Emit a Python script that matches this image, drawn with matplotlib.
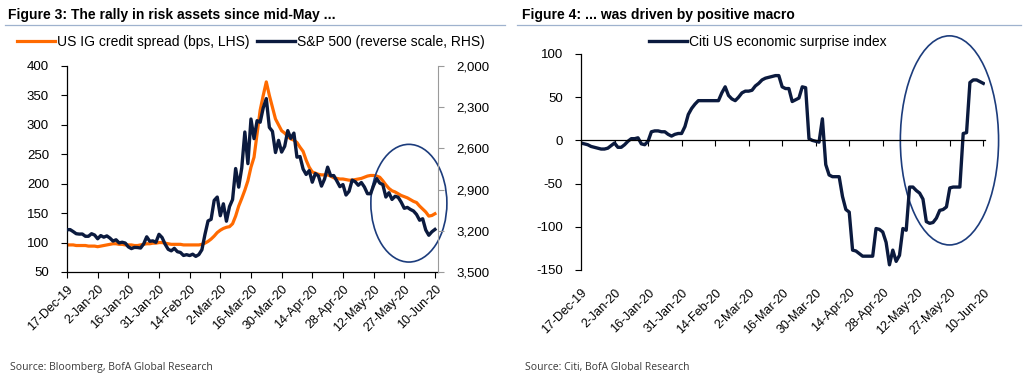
import matplotlib
matplotlib.use("Agg")
import matplotlib.pyplot as plt
from matplotlib import font_manager
from matplotlib.patches import Ellipse
from matplotlib.lines import Line2D
import numpy as np
import pandas as pd

# ---------------- data ----------------
holidays = ["2019-12-25", "2020-01-01", "2020-01-20", "2020-02-17", "2020-04-10", "2020-05-25"]
dates = pd.bdate_range("2019-12-17", "2020-06-10", freq="C", holidays=holidays)

tick_dates = ["2019-12-17", "2020-01-02", "2020-01-16", "2020-01-31", "2020-02-14", "2020-03-02",
              "2020-03-16", "2020-03-30", "2020-04-14", "2020-04-28", "2020-05-12", "2020-05-27",
              "2020-06-10"]
tick_labels = ["17-Dec-19", "2-Jan-20", "16-Jan-20", "31-Jan-20", "14-Feb-20", "2-Mar-20",
               "16-Mar-20", "30-Mar-20", "14-Apr-20", "28-Apr-20", "12-May-20", "27-May-20",
               "10-Jun-20"]

ig_spread = [96, 96, 96, 95, 95, 95, 95, 94, 94, 94,
             93, 94, 95, 96, 97, 98, 98, 97, 97, 96,
             96, 96, 95, 95, 96, 97, 98, 98, 99, 99,
             100, 100, 99, 98, 97, 97, 97, 97, 96, 96,
             96, 96, 96, 96, 97, 99, 102, 106, 111, 117,
             121, 124, 126, 127, 132, 145, 162, 175, 189, 205,
             228, 245, 285, 325, 350, 373, 350, 330, 310, 300,
             290, 286, 280, 276, 274, 270, 262, 255, 240, 228,
             220, 218, 216, 215, 215, 215, 213, 210, 209, 208,
             208, 207, 206, 206, 207, 208, 209, 211, 213, 214,
             214, 213, 211, 205, 198, 192, 188, 186, 183, 180,
             178, 176, 173, 170, 168, 162, 157, 152, 145, 146,
             149]

spx = [3192.5, 3191.1, 3205.4, 3221.2, 3224.0, 3223.4, 3239.9, 3240.0, 3221.3, 3230.8,
       3257.9, 3234.9, 3246.3, 3237.2, 3253.1, 3274.7, 3265.4, 3288.1, 3283.2, 3289.3,
       3316.8, 3329.6, 3320.8, 3321.8, 3325.5, 3295.5, 3243.6, 3276.2, 3273.4, 3283.7,
       3225.5, 3248.9, 3297.6, 3334.7, 3345.8, 3327.7, 3352.1, 3357.8, 3379.5, 3373.9,
       3380.2, 3370.3, 3386.2, 3373.2, 3337.8, 3225.9, 3128.2, 3116.4, 2978.8, 2954.2,
       3090.2, 3003.4, 3130.1, 3023.9, 2972.4, 2746.6, 2882.2, 2741.4, 2480.6, 2711.0,
       2386.1, 2529.2, 2398.1, 2409.4, 2304.9, 2237.4, 2447.3, 2475.6, 2630.1, 2541.5,
       2626.7, 2584.6, 2470.5, 2526.9, 2488.7, 2663.7, 2659.4, 2750.0, 2789.8, 2761.6,
       2846.1, 2783.4, 2799.6, 2874.6, 2823.2, 2736.6, 2799.3, 2797.8, 2836.7, 2878.5,
       2863.4, 2939.5, 2912.4, 2830.7, 2842.7, 2868.4, 2848.4, 2881.2, 2929.8, 2930.3,
       2870.1, 2820.0, 2852.5, 2863.7, 2953.9, 2922.9, 2971.6, 2948.5, 2955.5, 2991.8,
       3036.1, 3029.7, 3044.3, 3055.7, 3080.8, 3122.9, 3112.4, 3193.9, 3232.4, 3207.2,
       3190.1]

cesi = [-3, -4, -5, -7, -8, -9, -10, -10, -9, -6,
        -3, -8, -8, -5, -1, 2, 2, 3, -4, -5,
        -1, 10, 11, 11, 10, 10, 7, 5, 7, 8,
        8, 16, 30, 37, 42, 46, 46, 46, 46, 46,
        46, 46, 55, 62, 52, 48, 46, 50, 55, 57,
        57, 58, 63, 66, 70, 72, 73, 74, 75, 75,
        62, 60, 60, 45, 47, 49, 62, 61, 2, 0,
        -1, -2, 25, -28, -40, -42, -42, -42, -65, -80,
        -83, -127, -128, -131, -134, -134, -134, -134, -102, -103,
        -106, -118, -144, -127, -140, -133, -102, -104, -54, -54,
        -58, -61, -68, -94, -96, -95, -90, -81, -80, -77,
        -55, -54, -54, -54, 8, 9, 67, 70, 70, 68,
        66]

left_ticks = [50, 100, 150, 200, 250, 300, 350, 400]
right_ticks = [2000, 2300, 2600, 2900, 3200, 3500]
cesi_ticks = [-150, -100, -50, 0, 50, 100]

# ---------------- style ----------------
avail = {f.name for f in font_manager.fontManager.ttflist}
base_font = "Liberation Sans" if "Liberation Sans" in avail else "DejaVu Sans"
narrow_font = "Liberation Sans Narrow" if "Liberation Sans Narrow" in avail else base_font
src_font = "Open Sans" if "Open Sans" in avail else base_font
plt.rcParams["font.family"] = [base_font, "DejaVu Sans"]
plt.rcParams["axes.unicode_minus"] = False

ORANGE = "#FF6A00"
NAVY = "#0B1A3E"
CIRCLE = "#1C3C7C"
RULE = "#9FB2CE"

x = np.arange(len(dates))
tick_pos = dates.get_indexer(pd.to_datetime(tick_dates))

W, H = 1024, 379
fig = plt.figure(figsize=(W / 100, H / 100), dpi=100)


def fx(px):
    return px / W


def fy(py):
    return 1 - py / H


# ---------------- left chart ----------------
ax = fig.add_axes([fx(67), fy(272), fx(438) - fx(67), fy(66) - fy(272)])
ax2 = ax.twinx()
ax.plot(x, ig_spread, color=ORANGE, lw=2.3, solid_joinstyle="round", label="US IG credit spread (bps, LHS)")
ax2.plot(x, spx, color=NAVY, lw=2.4, solid_joinstyle="round", label="S&P 500 (reverse scale, RHS)")
ax.set_xlim(0, 121)
ax.set_ylim(50, 400)
ax.set_yticks(left_ticks)
ax2.set_ylim(3500, 2000)
ax2.set_yticks(right_ticks)
ax2.set_yticklabels([f"{v:,}" for v in right_ticks])
ax.set_xticks(tick_pos)
ax.set_xticklabels(tick_labels, rotation=45, ha="right", rotation_mode="anchor")
for s in ["top", "right"]:
    ax.spines[s].set_visible(False)
for s in ["top", "left", "bottom"]:
    ax2.spines[s].set_visible(False)
ax2.spines["right"].set_color("#9a9a9a")
ax.spines["left"].set_linewidth(0.9)
ax.spines["bottom"].set_linewidth(0.9)
ax.tick_params(axis="y", length=4, width=0.8, pad=9, labelsize=9.5)
ax.tick_params(axis="x", length=4, width=0.8, pad=4, labelsize=9)
ax2.tick_params(axis="y", length=4, width=0.8, color="#9a9a9a", pad=9, labelsize=9.5)
ell = Ellipse((111.5, 2999), 24.8, 857, fill=False, ec=CIRCLE, lw=1.2, clip_on=False)
ax2.add_patch(ell)

h1, l1 = ax.get_legend_handles_labels()
h2, l2 = ax2.get_legend_handles_labels()
fig.legend(h1 + h2, l1 + l2, loc="center left", bbox_to_anchor=(fx(17), fy(42)), ncol=2,
           frameon=False, fontsize=10, handlelength=2.7, handletextpad=0.15, columnspacing=0.6,
           borderpad=0, borderaxespad=0)

# ---------------- right chart ----------------
bx = fig.add_axes([fx(581), fy(270), fx(985) - fx(581), fy(54) - fy(270)])
bx.plot(x, cesi, color=NAVY, lw=2.4, solid_joinstyle="round", label="Citi US economic surprise index")
bx.set_xlim(0, 120.5)
bx.set_ylim(-150, 100)
bx.set_yticks(cesi_ticks)
for s in ["top", "right"]:
    bx.spines[s].set_visible(False)
bx.spines["bottom"].set_position(("data", 0))
bx.spines["bottom"].set_linewidth(0.9)
bx.spines["left"].set_linewidth(0.9)
bx.set_xticks(tick_pos)
bx.tick_params(axis="x", length=4, width=0.8, labelbottom=False)
bx.tick_params(axis="y", length=4, width=0.8, pad=9, labelsize=9.5)
sec = bx.secondary_xaxis("bottom")
sec.spines["bottom"].set_visible(False)
sec.set_xticks(tick_pos)
sec.set_xticklabels(tick_labels, rotation=45, ha="right", rotation_mode="anchor")
sec.tick_params(axis="x", length=0, pad=12, labelsize=9)
ell2 = Ellipse((109.9, 0), 29.3, 242, fill=False, ec=CIRCLE, lw=1.2, clip_on=False)
bx.add_patch(ell2)
bx.legend(loc="center left", bbox_to_anchor=(fx(649), fy(42)), bbox_transform=fig.transFigure,
          frameon=False, fontsize=10, handlelength=2.7, handletextpad=0.15, borderpad=0,
          borderaxespad=0)

# ---------------- titles, rules, sources ----------------
fig.text(fx(8), fy(19.5), "Figure 3: The rally in risk assets since mid-May ...", fontsize=10,
         fontweight="bold", family=[narrow_font, "DejaVu Sans"], va="baseline", ha="left")
fig.text(fx(522), fy(19.5), "Figure 4: ... was driven by positive macro", fontsize=10,
         fontweight="bold", family=[narrow_font, "DejaVu Sans"], va="baseline", ha="left")
fig.add_artist(Line2D([fx(5), fx(505)], [fy(24.5), fy(24.5)], color=RULE, lw=0.9))
fig.add_artist(Line2D([fx(517), fx(1021)], [fy(24.5), fy(24.5)], color=RULE, lw=0.9))
fig.text(fx(10), fy(370), "Source: Bloomberg, BofA Global Research", fontsize=7.5,
         family=[src_font, "DejaVu Sans"], color="#3a3a3a", va="baseline")
fig.text(fx(525), fy(370), "Source: Citi, BofA Global Research", fontsize=7.5,
         family=[src_font, "DejaVu Sans"], color="#3a3a3a", va="baseline")

fig.savefig("out.png", dpi=100)
